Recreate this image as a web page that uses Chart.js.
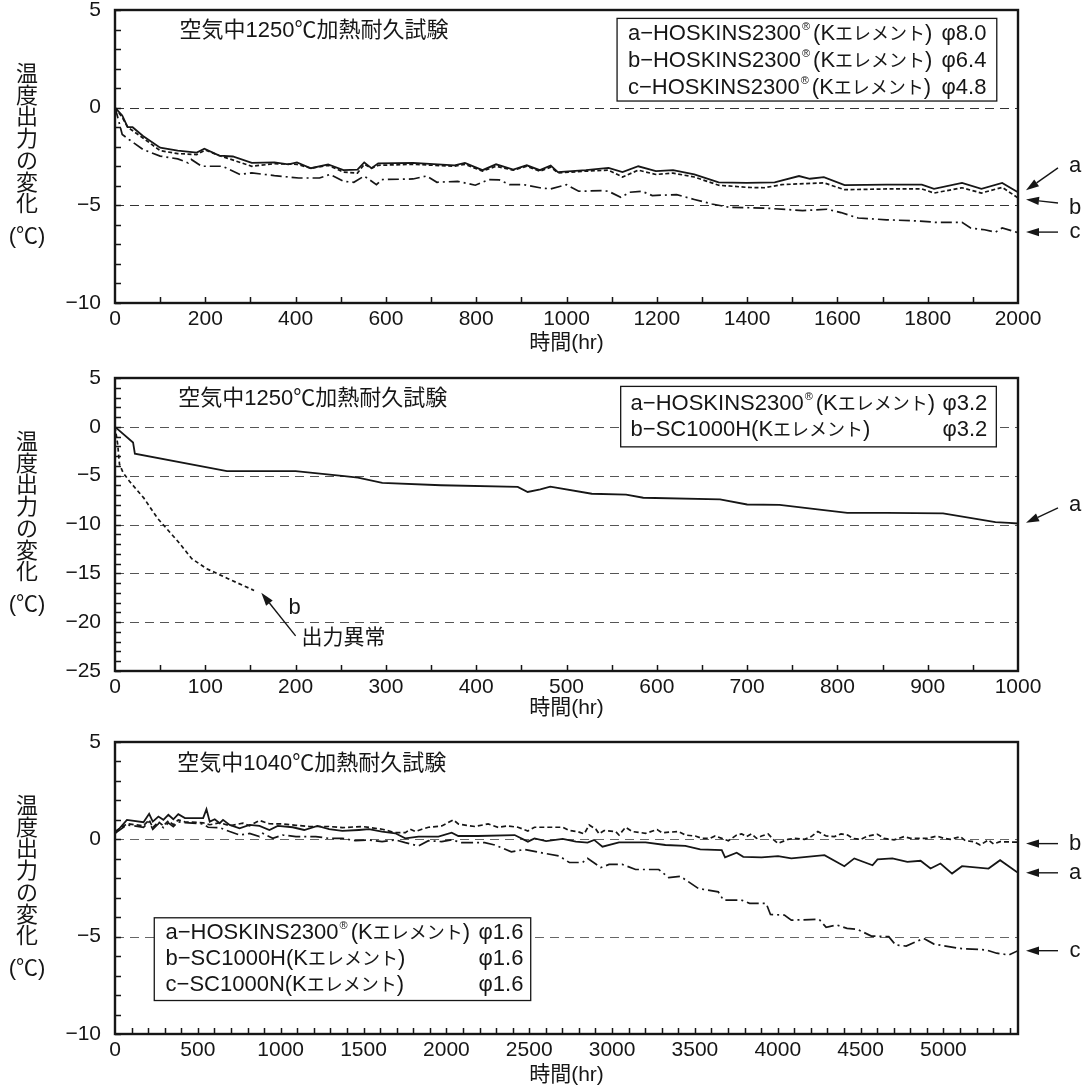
<!DOCTYPE html>
<html>
<head>
<meta charset="utf-8">
<script src="https://cdn.jsdelivr.net/npm/chart.js@4.4.0/dist/chart.umd.min.js"></script>
<style>
    html, body { margin: 0; padding: 0; background: #fff; }
    #wrap { position: relative; width: 1086px; height: 1088px; }
    canvas { position: absolute; left: 0; }
</style>
</head>
<body>
<div id="wrap">
    <canvas id="c1" width="1086" height="360" style="top:0px"></canvas>
    <canvas id="c2" width="1086" height="360" style="top:360px"></canvas>
    <canvas id="c3" width="1086" height="368" style="top:720px"></canvas>
</div>
<script>
const FONT = "'Liberation Sans', 'Noto Sans CJK JP', sans-serif";
const INK = '#161616';

// ---- chart 1: 1250℃, 2000 hr ----
const xTicks1 = [0, 200, 400, 600, 800, 1000, 1200, 1400, 1600, 1800, 2000];
const yTicks1 = [5, 0, -5, -10];
const hours1a = [0, 16, 28, 39, 62, 100, 139, 181, 198, 231, 261, 303, 353, 384, 403, 434, 472, 506, 537, 552, 568, 583, 660, 752, 775, 814, 844, 882, 912, 941, 965, 981, 1043, 1093, 1124, 1159, 1198, 1236, 1283, 1337, 1399, 1461, 1515, 1539, 1570, 1616, 1709, 1787, 1814, 1876, 1919, 1965, 2000];
const temp1a = [0, -0.4, -1.0, -1.0, -1.45, -2.05, -2.2, -2.3, -2.1, -2.45, -2.5, -2.83, -2.8, -2.9, -2.8, -3.1, -2.9, -3.2, -3.17, -2.8, -3.1, -2.85, -2.83, -2.95, -2.83, -3.2, -2.9, -3.17, -2.95, -3.2, -2.96, -3.3, -3.2, -3.08, -3.3, -3.0, -3.25, -3.2, -3.42, -3.82, -3.85, -3.82, -3.5, -3.64, -3.56, -3.97, -3.94, -3.94, -4.16, -3.85, -4.16, -3.85, -4.33];
const hours1b = [0, 16, 28, 62, 100, 139, 181, 200, 231, 303, 353, 403, 434, 472, 506, 537, 552, 568, 583, 660, 752, 775, 814, 844, 882, 912, 941, 965, 981, 1043, 1093, 1124, 1159, 1198, 1236, 1283, 1337, 1399, 1438, 1477, 1515, 1570, 1616, 1709, 1787, 1814, 1876, 1919, 1965, 2000];
const temp1b = [0, -0.5, -1.0, -1.55, -2.2, -2.35, -2.4, -2.17, -2.45, -3.0, -2.87, -2.9, -3.1, -2.95, -3.3, -3.35, -2.9, -3.1, -2.95, -2.9, -3.0, -2.9, -3.25, -3.0, -3.2, -3.0, -3.25, -3.05, -3.34, -3.25, -3.2, -3.55, -3.2, -3.42, -3.35, -3.55, -3.97, -4.08, -4.1, -3.94, -3.9, -3.85, -4.2, -4.16, -4.16, -4.37, -4.1, -4.37, -4.08, -4.62];
const hours1c = [0, 5, 16, 31, 62, 100, 139, 162, 169, 192, 238, 277, 303, 353, 407, 453, 476, 506, 529, 552, 579, 591, 660, 690, 713, 759, 798, 828, 851, 874, 905, 941, 965, 1000, 1027, 1078, 1093, 1120, 1140, 1167, 1190, 1244, 1283, 1322, 1360, 1438, 1523, 1577, 1608, 1646, 1709, 1779, 1817, 1876, 1895, 1926, 1950, 1965, 2000];
const temp1c = [0, -0.4, -1.37, -1.63, -2.14, -2.48, -2.62, -2.83, -2.65, -3.0, -3.0, -3.42, -3.34, -3.48, -3.6, -3.6, -3.42, -3.77, -3.82, -3.5, -3.94, -3.68, -3.65, -3.5, -3.82, -3.77, -3.97, -3.68, -3.7, -3.94, -3.94, -4.1, -4.16, -3.94, -4.28, -4.25, -4.28, -4.59, -4.33, -4.28, -4.5, -4.45, -4.7, -4.93, -5.1, -5.14, -5.27, -5.2, -5.37, -5.65, -5.74, -5.8, -5.87, -5.87, -6.16, -6.25, -6.37, -6.16, -6.4];
const names1 = ['a−HOSKINS2300', 'b−HOSKINS2300', 'c−HOSKINS2300'];
const dia1 = ['φ8.0', 'φ6.4', 'φ4.8'];

// ---- chart 2: 1250℃, 1000 hr ----
const xTicks2 = [0, 100, 200, 300, 400, 500, 600, 700, 800, 900, 1000];
const yTicks2 = [5, 0, -5, -10, -15, -20, -25];
const hours2a = [0, 20, 22, 124, 200, 254, 269, 296, 361, 446, 457, 471, 482, 528, 566, 585, 670, 700, 736, 778, 811, 855, 917, 975, 990, 1000];
const temp2a = [0, -1.6, -2.75, -4.54, -4.54, -5.05, -5.2, -5.74, -5.98, -6.15, -6.67, -6.4, -6.13, -6.85, -6.95, -7.26, -7.43, -7.95, -8.0, -8.46, -8.8, -8.8, -8.87, -9.76, -9.83, -9.9];
const hours2b = [0, 3, 5, 9, 16, 32, 47, 70, 85, 101, 124, 154];
const temp2b = [0, -1.8, -3.85, -4.7, -5.57, -7.3, -9.35, -11.76, -13.5, -14.5, -15.5, -16.75];
const names2 = ['a−HOSKINS2300', 'b−SC1000H'];
const dia2 = ['φ3.2', 'φ3.2'];

// ---- chart 3: 1040℃, ~5450 hr ----
const xTicks3 = [0, 500, 1000, 1500, 2000, 2500, 3000, 3500, 4000, 4500, 5000];
const yTicks3 = [5, 0, -5, -10];
const hours3a = [0, 72, 172, 206, 228, 262, 292, 322, 352, 382, 422, 532, 552, 572, 602, 632, 652, 692, 752, 812, 872, 932, 982, 1072, 1142, 1222, 1292, 1372, 1472, 1532, 1612, 1692, 1752, 1832, 1952, 2032, 2072, 2192, 2412, 2492, 2532, 2602, 2702, 2782, 2852, 2892, 2942, 3042, 3202, 3322, 3442, 3532, 3662, 3682, 3752, 3792, 3902, 4002, 4082, 4282, 4402, 4462, 4572, 4602, 4692, 4782, 4862, 4922, 4982, 5052, 5112, 5272, 5342, 5450];
const temp3a = [0.3, 1.0, 0.88, 1.31, 0.91, 1.17, 1.0, 1.26, 1.03, 1.29, 1.09, 1.09, 1.55, 0.91, 1.03, 0.83, 1.0, 0.74, 0.57, 0.74, 0.69, 0.48, 0.69, 0.62, 0.48, 0.69, 0.52, 0.43, 0.48, 0.52, 0.4, 0.31, 0.05, 0.14, 0.14, 0.34, 0.17, 0.17, 0.22, -0.12, 0.05, -0.09, 0.02, -0.12, -0.17, -0.03, -0.38, -0.16, -0.16, -0.29, -0.34, -0.52, -0.55, -0.93, -0.69, -0.9, -0.93, -0.86, -0.98, -0.81, -1.38, -0.98, -1.33, -1.03, -0.98, -1.16, -1.1, -1.5, -1.24, -1.76, -1.38, -1.5, -1.07, -1.72];
const hours3b = [0, 72, 172, 206, 228, 262, 292, 322, 352, 382, 422, 532, 572, 632, 692, 772, 812, 872, 932, 1012, 1092, 1172, 1292, 1372, 1492, 1612, 1692, 1752, 1782, 1812, 1852, 1892, 1972, 2042, 2072, 2122, 2172, 2252, 2312, 2372, 2432, 2492, 2532, 2702, 2742, 2792, 2832, 2862, 2902, 2922, 2952, 3022, 3042, 3082, 3122, 3202, 3272, 3302, 3402, 3442, 3502, 3542, 3592, 3622, 3662, 3702, 3752, 3782, 3812, 3842, 3872, 3902, 3942, 3972, 4002, 4062, 4102, 4162, 4202, 4242, 4292, 4342, 4382, 4422, 4452, 4502, 4542, 4602, 4642, 4702, 4762, 4802, 4902, 4962, 5002, 5042, 5102, 5132, 5182, 5222, 5272, 5302, 5342, 5450];
const temp3b = [0.4, 0.8, 0.7, 1.0, 0.6, 0.9, 0.7, 0.95, 0.75, 1.0, 0.9, 0.85, 0.75, 0.85, 0.7, 0.83, 0.7, 0.97, 0.8, 0.79, 0.72, 0.66, 0.66, 0.6, 0.66, 0.52, 0.34, 0.34, 0.52, 0.4, 0.52, 0.62, 0.69, 1.0, 0.79, 0.72, 0.66, 0.79, 0.62, 0.69, 0.62, 0.43, 0.62, 0.62, 0.45, 0.4, 0.28, 0.74, 0.52, 0.28, 0.45, 0.4, 0.22, 0.62, 0.4, 0.31, 0.5, 0.34, 0.4, 0.22, 0.17, 0.05, 0.05, 0.17, 0.05, -0.07, 0.22, 0.28, 0.14, 0.28, 0.05, 0.17, 0.28, 0.0, -0.21, 0.0, 0.05, 0.0, 0.14, 0.4, 0.17, 0.14, 0.28, 0.22, 0.05, 0.0, 0.17, 0.26, 0.05, -0.03, 0.14, 0.05, 0.05, 0.17, 0.05, 0.0, 0.14, -0.07, -0.12, -0.29, -0.03, -0.24, -0.12, -0.15];
const hours3c = [0, 72, 172, 206, 228, 262, 292, 322, 352, 382, 422, 532, 562, 632, 692, 752, 812, 872, 892, 952, 1012, 1092, 1212, 1292, 1372, 1452, 1532, 1612, 1692, 1752, 1832, 1892, 1972, 2032, 2092, 2232, 2292, 2392, 2472, 2592, 2682, 2742, 2822, 2852, 2932, 2982, 3062, 3142, 3282, 3342, 3412, 3522, 3641, 3672, 3780, 3830, 3930, 3956, 4040, 4082, 4250, 4292, 4355, 4418, 4480, 4565, 4670, 4712, 4775, 4880, 4943, 5090, 5258, 5321, 5395, 5450];
const temp3c = [0.31, 0.74, 0.62, 0.9, 0.52, 0.8, 0.6, 0.85, 0.65, 0.9, 0.86, 0.79, 0.62, 0.6, 0.4, 0.22, 0.3, 0.14, 0.31, 0.05, 0.22, 0.14, 0.14, 0.05, 0.05, -0.07, -0.03, -0.12, -0.03, -0.17, -0.34, -0.07, -0.12, -0.03, -0.17, -0.17, -0.29, -0.64, -0.52, -0.72, -0.86, -1.19, -1.19, -0.98, -1.45, -1.29, -1.29, -1.55, -1.55, -1.97, -1.9, -2.53, -2.7, -3.12, -3.12, -3.29, -3.29, -3.86, -3.89, -4.15, -4.11, -4.52, -4.4, -4.57, -4.62, -4.97, -5.0, -5.43, -5.48, -5.09, -5.38, -5.6, -5.68, -5.85, -5.94, -5.72];
const names3 = ['a−HOSKINS2300', 'b−SC1000H', 'c−SC1000N'];
const dia3 = ['φ1.6', 'φ1.6', 'φ1.6'];

const pts = (xs, ys) => xs.map((x, i) => ({ x: x, y: ys[i] }));

function font(size) { return size + 'px ' + FONT; }

function arrow(ctx, x1, y1, x2, y2) {
    const ang = Math.atan2(y2 - y1, x2 - x1);
    const len = 13, half = 4.2;
    const bx = x2 - Math.cos(ang) * len, by = y2 - Math.sin(ang) * len;
    ctx.beginPath();
    ctx.moveTo(x1, y1);
    ctx.lineTo(bx, by);
    ctx.lineWidth = 1.4;
    ctx.stroke();
    ctx.beginPath();
    ctx.moveTo(x2, y2);
    ctx.lineTo(bx - Math.sin(ang) * half, by + Math.cos(ang) * half);
    ctx.lineTo(bx + Math.sin(ang) * half, by - Math.cos(ang) * half);
    ctx.closePath();
    ctx.fill();
}

// one legend row: name, ®, (Kエレメント) with narrower kana, φ right-aligned
function legendRow(ctx, name, dia, x, y, phiX) {
    let cx = x;
    ctx.textAlign = 'left';
    ctx.font = font(22);
    ctx.fillText(name, cx, y);
    cx += ctx.measureText(name).width;
    if (name.indexOf('HOSKINS') >= 0) {
        ctx.font = font(11);
        ctx.fillText('®', cx + 1, y - 7);
        cx += ctx.measureText('®').width + 4;
    }
    ctx.font = font(22);
    ctx.fillText('(K', cx, y);
    cx += ctx.measureText('(K').width;
    ctx.font = font(18);
    ctx.fillText('エレメント', cx, y + 1);
    cx += ctx.measureText('エレメント').width;
    ctx.font = font(22);
    ctx.fillText(')', cx, y);
    ctx.textAlign = 'right';
    ctx.fillText(dia, phiX, y);
}

// frame, inner ticks, dashed reference lines, labels drawn on top of the chart
const decor = {
    id: 'decor',
    beforeDatasetsDraw(chart, args, o) {
        const { ctx, chartArea: a, scales: { y } } = chart;
        ctx.save();
        ctx.setLineDash([9, 6]);
        ctx.lineWidth = 1.2;
        ctx.strokeStyle = o.refColor;
        o.refLines.forEach(v => {
            const py = Math.round(y.getPixelForValue(v)) + 0.5;
            ctx.beginPath();
            ctx.moveTo(a.left, py);
            ctx.lineTo(a.right, py);
            ctx.stroke();
        });
        ctx.restore();
    },
    afterDatasetsDraw(chart, args, o) {
        const { ctx, chartArea: a, scales: { x, y } } = chart;
        const px = v => x.getPixelForValue(v);
        const py = v => y.getPixelForValue(v);
        ctx.save();
        ctx.fillStyle = INK;
        ctx.strokeStyle = INK;

        // legend box
        const lg = o.legend;
        ctx.fillStyle = '#fff';
        ctx.fillRect(px(lg.x0), py(lg.y0), px(lg.x1) - px(lg.x0), py(lg.y1) - py(lg.y0));
        ctx.lineWidth = 1.3;
        ctx.strokeRect(px(lg.x0), py(lg.y0), px(lg.x1) - px(lg.x0), py(lg.y1) - py(lg.y0));
        ctx.fillStyle = INK;
        ctx.textBaseline = 'middle';
        lg.rows.forEach((r, i) => legendRow(ctx, lg.names[i], lg.dia[i], px(lg.textX), py(r), px(lg.phiX)));

        // in-plot title
        ctx.textAlign = 'left';
        ctx.font = font(22);
        ctx.fillText(o.title.text, px(o.title.x), py(o.title.y));

        // frame
        ctx.lineWidth = 2.4;
        ctx.strokeRect(a.left, a.top, a.right - a.left, a.bottom - a.top);

        // inner tick marks
        ctx.lineWidth = 1.5;
        ctx.beginPath();
        for (let v = y.min; v <= y.max; v += o.yMinor) {
            const yy = Math.round(py(v)) + 0.5;
            ctx.moveTo(a.left, yy);
            ctx.lineTo(a.left + 6, yy);
        }
        for (let v = x.min + o.xMinor; v < x.max; v += o.xMinor) {
            const xx = Math.round(px(v)) + 0.5;
            ctx.moveTo(xx, a.bottom);
            ctx.lineTo(xx, a.bottom - 6);
        }
        ctx.stroke();

        // right-side arrows a / b / c
        o.sideArrows.forEach(s => {
            arrow(ctx, a.right + 40, py(s.tail), a.right + 8, py(s.head));
            ctx.font = font(22);
            ctx.textAlign = 'center';
            ctx.fillText(s.label, a.right + 57, py(s.text));
        });

        // free notes, some with arrows
        (o.notes || []).forEach(n => {
            if (n.from) arrow(ctx, px(n.from[0]), py(n.from[1]), px(n.to[0]), py(n.to[1]));
            ctx.font = font(n.size);
            ctx.textAlign = 'center';
            ctx.fillText(n.text, px(n.at[0]), py(n.at[1]));
        });

        // vertical y-axis title, one character per line
        ctx.font = font(22);
        ctx.textAlign = 'center';
        '温度出力の変化'.split('').forEach((ch, i) => {
            ctx.fillText(ch, 27, a.top + 65 + i * 21.7);
        });
        ctx.fillText('(℃)', 27, a.top + 65 + 7.45 * 21.7);

        // x-axis title
        ctx.font = font(21);
        ctx.fillText('時間(hr)', (a.left + a.right) / 2, a.bottom + o.xTitleGap);
        ctx.restore();
    }
};

function makeChart(id, cfg) {
    const canvas = document.getElementById(id);
    const H = canvas.height;
    const datasets = cfg.series.map(s => ({
        data: s.data,
        borderColor: INK,
        borderWidth: s.width || 1.8,
        borderDash: s.dash || [],
        pointRadius: 0,
        tension: 0,
        fill: false
    }));
    return new Chart(canvas.getContext('2d'), {
        type: 'line',
        data: { datasets: datasets },
        plugins: [decor],
        options: {
            responsive: false,
            animation: false,
            devicePixelRatio: 1,
            layout: { padding: { left: 0, right: 1086 - 1018, top: cfg.top, bottom: 0 } },
            plugins: {
                legend: { display: false },
                tooltip: { enabled: false },
                decor: cfg.decor
            },
            scales: {
                x: {
                    type: 'linear',
                    min: 0,
                    max: cfg.xMax,
                    grid: { display: false, drawTicks: false },
                    border: { display: false },
                    afterBuildTicks: sc => { sc.ticks = cfg.xTicks.map(v => ({ value: v })); },
                    afterFit: sc => {
                        sc.height = H - cfg.bottom;
                        sc.paddingLeft = 0;
                        sc.paddingRight = 0;
                    },
                    ticks: {
                        color: INK,
                        font: { family: FONT, size: 21 },
                        maxRotation: 0,
                        autoSkip: false,
                        padding: 4,
                        callback: v => String(v)
                    }
                },
                y: {
                    min: cfg.yMin,
                    max: cfg.yMax,
                    grid: { display: false, drawTicks: false },
                    border: { display: false },
                    afterBuildTicks: sc => { sc.ticks = cfg.yTicks.map(v => ({ value: v })); },
                    afterFit: sc => {
                        sc.width = 115;
                        sc.paddingTop = 0;
                        sc.paddingBottom = 0;
                    },
                    ticks: {
                        color: INK,
                        font: { family: FONT, size: 21 },
                        padding: 14,
                        autoSkip: false,
                        callback: v => String(v).replace('-', '−')
                    }
                }
            }
        }
    });
}

makeChart('c1', {
    top: 10, bottom: 303, xMax: 2000, yMin: -10, yMax: 5,
    xTicks: xTicks1, yTicks: yTicks1,
    series: [
        { data: pts(hours1a, temp1a) },
        { data: pts(hours1b, temp1b), dash: [4, 2.5], width: 1.7 },
        { data: pts(hours1c, temp1c), dash: [11, 4, 2, 4], width: 1.7 }
    ],
    decor: {
        refLines: [0, -5], refColor: '#333', xMinor: 100, yMinor: 1, xTitleGap: 40,
        title: { text: '空気中1250℃加熱耐久試験', x: 143, y: 3.94 },
        legend: { x0: 1112, x1: 1953, y0: 4.57, y1: 0.34, textX: 1136, phiX: 1930, rows: [3.77, 2.4, 1.03], names: names1, dia: dia1 },
        sideArrows: [
            { label: 'a', head: -4.23, tail: -3.08, text: -3.0 },
            { label: 'b', head: -4.7, tail: -4.88, text: -5.14 },
            { label: 'c', head: -6.37, tail: -6.37, text: -6.37 }
        ]
    }
});

makeChart('c2', {
    top: 18, bottom: 311, xMax: 1000, yMin: -25, yMax: 5,
    xTicks: xTicks2, yTicks: yTicks2,
    series: [
        { data: pts(hours2a, temp2a) },
        { data: pts(hours2b, temp2b), dash: [4, 3], width: 1.7 }
    ],
    decor: {
        refLines: [0, -5, -10, -15, -20], refColor: '#555', xMinor: 50, yMinor: 1, xTitleGap: 37,
        title: { text: '空気中1250℃加熱耐久試験', x: 70, y: 2.85 },
        legend: { x0: 560, x1: 976, y0: 4.14, y1: -2.05, textX: 571, phiX: 966, rows: [2.33, -0.34], names: names2, dia: dia2 },
        sideArrows: [
            { label: 'a', head: -9.83, tail: -8.3, text: -7.95 }
        ],
        notes: [
            { text: 'b', size: 22, from: [200, -21.4], to: [162, -17.0], at: [199, -18.5] },
            { text: '出力異常', size: 21, at: [253, -21.6] }
        ]
    }
});

makeChart('c3', {
    top: 22, bottom: 314, xMax: 5450, yMin: -10, yMax: 5,
    xTicks: xTicks3, yTicks: yTicks3,
    series: [
        { data: pts(hours3a, temp3a) },
        { data: pts(hours3b, temp3b), dash: [5, 3], width: 1.7 },
        { data: pts(hours3c, temp3c), dash: [12, 4, 2, 4], width: 1.7 }
    ],
    decor: {
        refLines: [0, -5], refColor: '#666', xMinor: 100, yMinor: 1, xTitleGap: 41,
        title: { text: '空気中1040℃加熱耐久試験', x: 376, y: 3.87 },
        legend: { x0: 237, x1: 2509, y0: -4.03, y1: -8.28, textX: 305, phiX: 2465, rows: [-4.83, -6.16, -7.5], names: names3, dia: dia3 },
        sideArrows: [
            { label: 'b', head: -0.22, tail: -0.22, text: -0.22 },
            { label: 'a', head: -1.72, tail: -1.72, text: -1.72 },
            { label: 'c', head: -5.72, tail: -5.72, text: -5.72 }
        ]
    }
});
</script>
</body>
</html>
